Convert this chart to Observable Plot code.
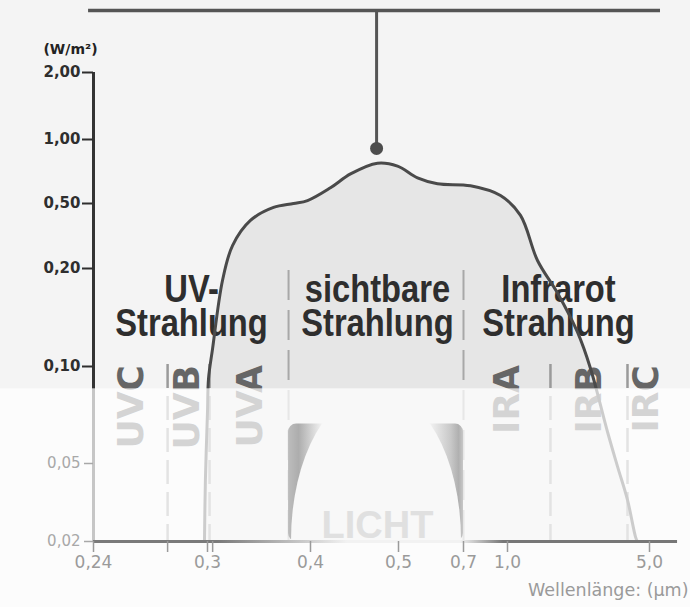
<!DOCTYPE html>
<html><head><meta charset="utf-8">
<script src="https://cdn.jsdelivr.net/npm/d3@7"></script>
<script src="https://cdn.jsdelivr.net/npm/@observablehq/plot@0.6"></script>
<style>html,body{margin:0;padding:0;background:#fff;} #chart svg{display:block}</style>
</head><body><div id="chart"></div>
<script>
// Spectrum curve (wavelength in µm, irradiance in W/m²)
const wavelength = [0.2984,0.2989,0.300,0.301,0.3049,0.3146,0.3243,0.3417,0.3641,0.3835,0.3971,0.4227,0.4455,0.4761,0.4989,0.5585,0.62,0.7477,0.9523,1.366,1.845,2.408,2.972,3.338,3.82,4.10,4.38,4.61,4.66];
const irradiance = [0.02,0.0438,0.0766,0.0938,0.118,0.188,0.306,0.422,0.482,0.50,0.523,0.623,0.731,0.815,0.792,0.70,0.654,0.638,0.562,0.445,0.237,0.175,0.135,0.099,0.0661,0.0488,0.036,0.0216,0.02];

const xDomain = [0.24,0.3,0.4,0.5,0.7,1.0,5.0];
const yDomain = [0.02,0.05,0.1,0.2,0.5,1,2,3];

const xTicks = [0.24,0.3,0.4,0.5,0.7,1.0,5.0];
const xTickLabels = ["0,24","0,3","0,4","0,5","0,7","1,0","5,0"];
const xMinorTicks = [0.279,0.305];
const yTicksUpper = [0.1,0.2,0.5,1,2];
const yTicksLower = [0.02,0.05];

const bandLine1 = ["UV-","sichtbare","Infrarot"];
const bandLine2 = ["Strahlung","Strahlung","Strahlung"];
const bandCenters = [0.2916,0.4761,2.437];
const bandBounds = [0.3787,0.7];
const subNames = ["UVC","UVB","UVA","IRA","IRB","IRC"];
const subCenters = [0.26,0.2895,0.3417,1.0,3.31,4.92];
const subBounds = [0.279,0.302,2.21,4.38];

const peakWavelength = 0.4751;
const peakMarker = 0.93;
const topLevel = 3;
const topLineFrom = 0.2374, topLineTo = 5.31;
const washLevel = 0.0885;          // below this the picture is washed out
const visibleFrom = 0.3787, visibleTo = 0.7, visibleTop = 0.0703;
const domeFrom = 0.3816, domeTo = 0.6938, domeTop = 0.088;
const lichtX = 0.4761, lichtY = 0.0262;
const axisEnd = 5.79;

const curve = wavelength.map((w, i) => ({w, v: irradiance[i]}));
const bands = bandCenters.map((x, i) => ({x, a: bandLine1[i], b: bandLine2[i]}));
const subs = subCenters.map((x, i) => ({x, n: subNames[i]}));

const bigFont = "'Liberation Sans', 'Arial', sans-serif";
const fmtY = d => d.toFixed(2).replace(".", ",");

const chart = Plot.plot({
  width: 690, height: 607,
  marginLeft: 93, marginRight: 13, marginTop: 10, marginBottom: 66,
  style: {background: "#f4f4f4", fontFamily: "'DejaVu Sans', sans-serif", overflow: "visible"},
  x: {type: "linear", domain: xDomain, range: [93,207,310,398,463,507,649]},
  y: {type: "linear", domain: yDomain, range: [541,463,366,268,203,139,72,10]},
  marks: [
    Plot.areaY(curve, {x: "w", y1: () => 0.02, y2: "v", curve: "catmull-rom", fill: "#e6e6e6"}),
    Plot.ruleX(bandBounds, {y1: () => 0.198, y2: () => 0.02, stroke: "#a8a8a8", strokeWidth: 2, strokeDasharray: "30,10"}),
    Plot.ruleX(subBounds, {y1: () => 0.102, y2: () => 0.02, stroke: "#9a9a9a", strokeWidth: 2.5, strokeDasharray: "24,8"}),
    Plot.text(subs, {x: "x", y: () => 0.1015, text: "n", rotate: -90, textAnchor: "end", lineAnchor: "middle",
      fontSize: 36, fontWeight: "bold", fontFamily: "'DejaVu Sans', sans-serif", fill: "#666"}),
    Plot.text(bands, {x: "x", y: () => 0.1785, text: "a", fontSize: 38, fontWeight: "bold", fontFamily: bigFont, fill: "#2e2e2e", lineAnchor: "middle"}),
    Plot.text(bands, {x: "x", y: () => 0.1435, text: "b", fontSize: 38, fontWeight: "bold", fontFamily: bigFont, fill: "#2e2e2e", lineAnchor: "middle"}),
    Plot.line(curve, {x: "w", y: "v", curve: "catmull-rom", stroke: "#4a4a4a", strokeWidth: 3}),
    Plot.ruleX([0.24], {y1: () => 0.02, y2: () => 2, stroke: "#333", strokeWidth: 3}),
    Plot.axisY({ticks: yTicksUpper, tickFormat: fmtY, tickSize: 11, tickPadding: 2, fontSize: 15, fontWeight: "bold", color: "#2e2e2e", strokeWidth: 2, label: null}),
    Plot.ruleY([topLevel], {x1: () => topLineFrom, x2: () => topLineTo, stroke: "#555", strokeWidth: 3.5}),
    Plot.ruleX([peakWavelength], {y1: () => peakMarker, y2: () => topLevel, stroke: "#555", strokeWidth: 3}),
    Plot.dot([peakWavelength], {x: d => d, y: () => peakMarker, r: 6.5, fill: "#4d4d4d"}),
    Plot.text(["(W/m²)"], {x: () => 0.24, y: () => 2, dx: -23, dy: -23, text: d => d, fontSize: 14, fontWeight: "bold", fill: "#222"}),
    // wash-out of the lower part
    Plot.rect([0], {x1: () => 0.19, x2: () => 6.2, y1: () => -0.012, y2: () => washLevel, fill: "white", fillOpacity: 0.72}),
    // visible light band
    Plot.rect([0], {x1: () => visibleFrom, x2: () => visibleTo, y1: () => 0.02, y2: () => visibleTop, fill: "url(#visGrad)", rx: 8}),
    Plot.rect([0], {x1: () => domeFrom, x2: () => domeTo, y1: () => -0.04, y2: () => domeTop, fill: "#f8f8f8", rx: 85, ry: 150, clip: true}),
    Plot.text(["LICHT"], {x: () => lichtX, y: () => lichtY, text: d => d, fontSize: 38, fontWeight: "bold", fontFamily: "'Liberation Sans', sans-serif", fill: "#e0e0e0", lineAnchor: "middle"}),
    // lower (washed) axis parts
    Plot.ruleY([0.02], {x1: () => 0.24, x2: () => axisEnd, stroke: "url(#baseGrad)", strokeWidth: 3}),
    Plot.axisX({ticks: xTicks, tickFormat: d => xTickLabels[xTicks.indexOf(d)], tickSize: 11, tickPadding: 3, fontSize: 17, color: "#9a9a9a", strokeWidth: 1.5, label: null}),
    Plot.axisX({ticks: xMinorTicks, tickFormat: () => "", tickSize: 11, color: "#9a9a9a", strokeWidth: 1.5, label: null}),
    Plot.axisY({ticks: yTicksLower, tickFormat: fmtY, tickSize: 9, tickPadding: 4, fontSize: 15, color: "#a8a8a8", strokeWidth: 1.5, label: null}),
    Plot.text(["Wellenlänge: (µm)"], {x: () => 5.0, y: () => 0.02, dx: 39, dy: 49, text: d => d, textAnchor: "end", fontSize: 17.5, fill: "#9a9a9a"})
  ]
});

const xs = chart.scale("x");
const svg = d3.select(chart);
const defs = svg.insert("defs", ":first-child");
const vis = defs.append("linearGradient").attr("id", "visGrad");
[[0,"#bdbdbd"],[0.06,"#adadad"],[0.12,"#cccccc"],[0.2,"#f6f6f6"],[0.8,"#f6f6f6"],[0.93,"#c8c8c8"],[0.975,"#b0b0b0"],[1,"#c8c8c8"]]
  .forEach(([o,c]) => vis.append("stop").attr("offset", o).attr("stop-color", c));
const bx0 = xs.apply(0.24), bx1 = xs.apply(axisEnd);
const base = defs.append("linearGradient").attr("id", "baseGrad").attr("gradientUnits", "userSpaceOnUse")
  .attr("x1", bx0).attr("x2", bx1).attr("y1", 0).attr("y2", 0);
[[0.24,"#7a7a7a"],[0.3097,"#7a7a7a"],[0.442,"#f2f2f2"],[0.691,"#f2f2f2"],[0.973,"#777"],[axisEnd,"#777"]]
  .forEach(([w,c]) => base.append("stop").attr("offset", (xs.apply(w) - bx0) / (bx1 - bx0)).attr("stop-color", c));

document.getElementById("chart").append(chart);
// condensed look for the big band captions
const bandWords = new Set([...bandLine1, ...bandLine2]);
svg.selectAll("text").filter(function() { return bandWords.has(this.textContent); }).each(function() {
  const L = this.getComputedTextLength();
  this.setAttribute("lengthAdjust", "spacingAndGlyphs");
  this.setAttribute("textLength", L * 0.86);
});
</script>
</body></html>
